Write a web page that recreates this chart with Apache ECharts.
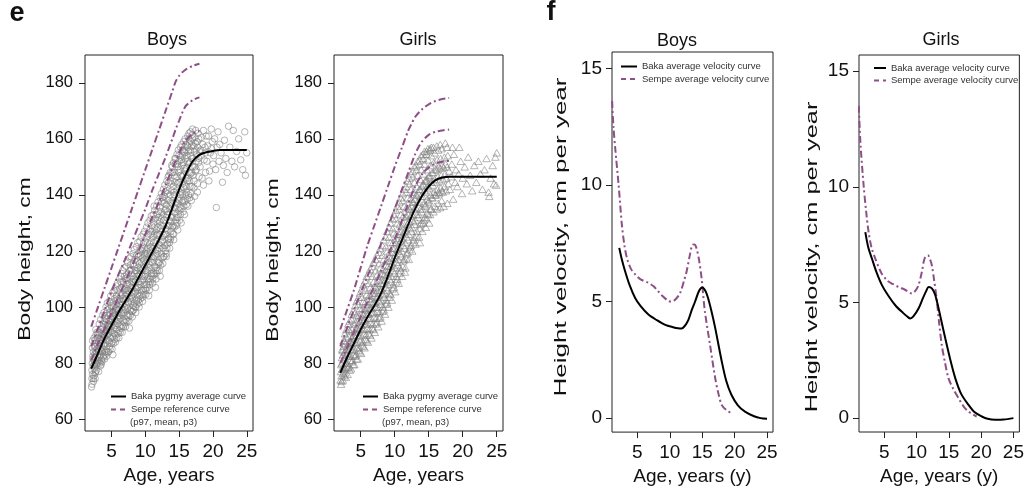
<!DOCTYPE html>
<html>
<head>
<meta charset="utf-8">
<title>Baka pygmy growth</title>
<script src="https://cdn.jsdelivr.net/npm/echarts@6/dist/echarts.min.js"></script>
<style>
  html, body { margin: 0; padding: 0; background: #fff; }
  #chart { width: 1027px; height: 491px; }
</style>
</head>
<body>
<div id="chart"></div>
<script>
// ---- tick values ----
const ageTicks = [5, 10, 15, 20, 25]
const heightTicks = [60, 80, 100, 120, 140, 160, 180]
const velocityTicks = [0, 5, 10, 15]

// ---- e: body height, Sempe reference curves (age, cm) ----
const sempeBoysP97 = [[2,93],[3,100],[4,107],[5,114],[6,121],[7,128],[8,135],[9,142],[10,149],[11,156],[12,163],[13,170],[14,177],[14.5,180.5],[15,182.5],[15.5,183.8],[16,184.8],[17,186],[18,186.8]]
const sempeBoysMean = [[2,86],[3,92.5],[4,99],[5,105.5],[6,111.5],[7,117],[8,123],[9,129],[10,135],[11,141.5],[12,147.5],[13,153.5],[14,160],[14.5,163.5],[15,166.5],[15.5,169.5],[16,171.8],[17,173.8],[18,174.8]]
const sempeBoysP3 = [[2,81],[3,87],[4,92.5],[5,98],[6,103.5],[7,109],[8,114.5],[9,120],[10,126],[11,132],[12,137.5],[13,143.5],[14,149.5],[15,155],[15.5,157.5],[16,159.5],[17,161.8],[18,162.8]]
const sempeGirlsP97 = [[2,92],[3,99],[4,106],[5,114],[6,122],[7,129],[8,136],[9,143],[10,150],[11,156.5],[12,163],[12.5,165.5],[13,167.8],[14,170.5],[15,172.3],[16,173.5],[17,174.2],[18,174.6]]
const sempeGirlsMean = [[2,86],[3,92.5],[4,99],[5,105],[6,111],[7,116.5],[8,122.5],[9,128.5],[10,135],[11,141.5],[12,148],[13,154.5],[13.5,157],[14,159],[15,161.4],[16,162.5],[17,163],[18,163.3]]
const sempeGirlsP3 = [[2,80],[3,85.5],[4,91],[5,96.5],[6,102],[7,107.5],[8,113],[9,118.5],[10,124],[11,130.5],[12,137],[13,143],[14,147.3],[15,149.8],[16,151.2],[17,151.8],[18,152.2]]

// ---- e: Baka pygmy average curves ----
const bakaBoysHeight = [[2,78],[3,83.5],[4,89],[5,93.5],[6,98],[7,102],[8,106],[9,110.5],[10,115],[11,119.5],[12,124],[13,129],[14,135.5],[15,142],[16,147.5],[17,152],[18,154.3],[19,155.2],[20,155.7],[21,156],[23,156],[25,156]]
const bakaGirlsHeight = [[2,76.5],[3,82],[4,87],[5,92],[6,96.5],[7,100.5],[8,105],[9,111],[10,117.5],[11,123.5],[12,129.5],[13,135],[14,139.5],[15,143],[16,145.3],[17,146.2],[18,146.5],[21,146.5],[25,146.5]]

// ---- e: individual measurements ----
const boysPoints = [
  [2.05,71.5],[2.1,74.5],[2.1,77.5],[2.15,80],[2.2,76],[2.25,82.5],[2.3,79],[2.3,84],[2.35,73.5],[2.4,81],[2.45,78],[2.45,86],[2.5,83],[2.2,88],[2.4,75.5],
  [2.55,80],[2.6,84.5],[2.65,77],[2.7,82],[2.75,87],[2.8,79.5],[2.85,85],[2.9,89],[2.95,83],[2.6,76.5],[2.7,90],[2.9,81],[3.0,86.5],[2.8,84],[2.55,88],
  [3.05,80.5],[3.1,84],[3.15,87.5],[3.2,82],[3.25,90],[3.3,85],[3.35,79],[3.4,88],[3.45,92],[3.5,84.5],[3.1,91],[3.2,86],[3.35,83],[3.45,89.5],[3.5,81],
  [3.55,87],[3.6,90.5],[3.65,84],[3.7,93],[3.75,88],[3.8,82.5],[3.85,91.5],[3.9,86.5],[3.95,95],[4.0,89.5],[3.6,85.5],[3.7,89],[3.8,94],[3.9,90],[4.0,84],
  [4.05,87],[4.1,91],[4.15,94.5],[4.2,88.5],[4.25,92.5],[4.3,85],[4.35,97],[4.4,90],[4.45,93.5],[4.5,88],[4.1,96],[4.2,84],[4.3,91.5],[4.4,99],[4.5,94],
  [4.55,90.5],[4.6,95],[4.65,87.5],[4.7,93],[4.75,98],[4.8,91.5],[4.85,96],[4.9,89],[4.95,100.5],[5.0,94.5],[4.6,92],[4.7,86],[4.8,97.5],[4.9,93],[5.2,83],
  [5.05,91],[5.1,95.5],[5.15,98.5],[5.2,89.5],[5.25,94],[5.3,100],[5.35,92.5],[5.4,97],[5.45,103],[5.5,95],[5.1,87.5],[5.2,101.5],[5.3,96.5],[5.4,90.5],[5.5,99],
  [5.55,93.5],[5.6,97.5],[5.65,101],[5.7,95],[5.75,104],[5.8,92],[5.85,99],[5.9,102.5],[5.95,96.5],[6.0,100],[5.6,90],[5.7,99.5],[5.8,106],[5.9,94],[6.0,97],
  [6.05,95.5],[6.1,99],[6.15,102.5],[6.2,97],[6.25,105],[6.3,93],[6.35,100.5],[6.4,104],[6.45,98],[6.5,107],[6.1,91.5],[6.2,101],[6.3,96],[6.4,109],[6.5,102],
  [6.55,97.5],[6.6,101],[6.65,104.5],[6.7,99],[6.75,107.5],[6.8,95],[6.85,102.5],[6.9,106],[6.95,100],[7.0,110],[6.6,93.5],[6.7,103],[6.8,98],[6.9,111],[7.0,104],
  [7.05,99],[7.1,103],[7.15,106.5],[7.2,100.5],[7.25,109.5],[7.3,97],[7.35,104.5],[7.4,108],[7.45,102],[7.5,112],[7.1,95.5],[7.2,105],[7.3,110.5],[7.4,99.5],[7.5,106],
  [7.55,101.5],[7.6,105.5],[7.65,92.5],[7.7,103],[7.75,110],[7.8,99],[7.85,107],[7.9,113.5],[7.95,104],[8.0,109],[7.6,97.5],[7.7,108.5],[7.8,115],[7.9,102],[8.0,105.5],
  [8.05,103],[8.1,107.5],[8.15,111],[8.2,100.5],[8.25,109],[8.3,114.5],[8.35,105],[8.4,112],[8.45,117],[8.5,107],[8.1,98.5],[8.2,104.5],[8.3,110],[8.4,101.5],[8.5,113],
  [8.55,105.5],[8.6,109.5],[8.65,113],[8.7,102.5],[8.75,111],[8.8,116.5],[8.85,107],[8.9,114],[8.95,119],[9.0,109],[8.6,100],[8.7,106.5],[8.8,112],[8.9,104],[9.0,118],
  [9.05,107],[9.1,111.5],[9.15,115.5],[9.2,104],[9.25,113],[9.3,118.5],[9.35,109],[9.4,116],[9.45,121],[9.5,111],[9.1,101.5],[9.2,108],[9.3,114],[9.4,106],[9.5,120],
  [9.55,109.5],[9.6,113.5],[9.65,117.5],[9.7,106],[9.75,115],[9.8,121],[9.85,111],[9.9,118.5],[9.95,123.5],[10.0,113],[9.6,103.5],[9.7,110],[9.8,116.5],[9.9,108],[10.0,119],
  [10.05,111.5],[10.1,116],[10.15,120],[10.2,108],[10.25,117.5],[10.3,123],[10.35,113],[10.4,121],[10.45,126],[10.5,104],[10.1,106],[10.2,112.5],[10.3,119],[10.4,110],[10.5,115.5],
  [10.55,114],[10.6,118.5],[10.65,122.5],[10.7,110],[10.75,120],[10.8,126],[10.85,116],[10.9,123.5],[10.95,129],[11.0,118],[10.6,108],[10.7,115],[10.8,121.5],[10.9,112],[11.0,127],
  [11.05,116],[11.1,121],[11.15,125],[11.2,112],[11.25,123],[11.3,128.5],[11.35,118],[11.4,126],[11.45,131.5],[11.5,107],[11.1,110],[11.2,117.5],[11.3,136],[11.4,114.5],[11.5,120.5],
  [11.55,118.5],[11.6,123.5],[11.65,127.5],[11.7,114],[11.75,125.5],[11.8,131],[11.85,120],[11.9,128.5],[11.95,134],[12.0,122.5],[11.6,112],[11.7,119],[11.8,126],[11.9,116],[12.0,132],
  [12.05,121],[12.1,126],[12.15,130.5],[12.2,111],[12.25,128],[12.3,134],[12.35,123],[12.4,131.5],[12.45,137.5],[12.5,125],[12.1,116],[12.2,122],[12.3,129],[12.4,119],[12.5,139],
  [12.55,123.5],[12.6,129],[12.65,133],[12.7,118],[12.75,131],[12.8,137],[12.85,126],[12.9,134.5],[12.95,141],[13.0,128],[12.6,121],[12.7,125.5],[12.8,139.5],[12.9,122],[13.0,135],
  [13.05,126],[13.1,132],[13.15,136.5],[13.2,121],[13.25,134],[13.3,140.5],[13.35,129],[13.4,138],[13.45,144.5],[13.5,131],[13.1,118],[13.2,127.5],[13.3,133],[13.4,124],[13.5,147],
  [13.55,129],[13.6,135],[13.65,140],[13.7,124],[13.75,137.5],[13.8,144],[13.85,132],[13.9,141.5],[13.95,148],[14.0,134.5],[13.6,121],[13.7,130.5],[13.8,127],[13.9,137],[14.0,150],
  [14.05,132],[14.1,138],[14.15,143],[14.2,126],[14.25,141],[14.3,147],[14.35,135.5],[14.4,144.5],[14.45,151],[14.5,137.5],[14.1,129],[14.2,124],[14.3,140],[14.4,133.5],[14.5,153],
  [14.55,135],[14.6,141.5],[14.65,146.5],[14.7,130],[14.75,144],[14.8,150],[14.85,138.5],[14.9,148],[14.95,154],[15.0,141],[14.6,132],[14.7,137],[14.8,127.5],[14.9,144.5],[15.0,152],
  [15.05,138],[15.1,144.5],[15.15,149],[15.2,133],[15.25,147],[15.3,152.5],[15.35,141],[15.4,150.5],[15.45,156],[15.5,144],[15.1,135.5],[15.2,140],[15.3,130],[15.4,146.5],[15.5,154],
  [15.55,140.5],[15.6,147],[15.65,151.5],[15.7,136],[15.75,149.5],[15.8,155],[15.85,143.5],[15.9,153],[15.95,158],[16.0,146],[15.6,138],[15.7,142.5],[15.8,133],[15.9,148.5],[16.0,156],
  [16.05,143],[16.1,149.5],[16.15,154],[16.2,138.5],[16.25,152],[16.3,157],[16.35,146],[16.4,155.5],[16.45,160],[16.5,148],[16.1,141],[16.2,145],[16.3,136],[16.4,151],[16.5,158.5],
  [16.55,145],[16.6,151.5],[16.65,156],[16.7,140.5],[16.75,154],[16.8,159],[16.85,148],[16.9,157.5],[16.95,161.5],[17.0,150],[16.6,143],[16.7,147.5],[16.8,138],[16.9,153],[17.0,160],
  [17.05,147],[17.1,153],[17.15,157.5],[17.2,142.5],[17.25,155.5],[17.3,160.5],[17.35,150],[17.4,158.5],[17.45,163],[17.5,152],[17.2,145],[17.3,139.5],[17.4,148.5],[17.5,156],
  [17.55,149],[17.6,154.5],[17.65,159],[17.7,144],[17.75,157],[17.8,162],[17.85,151.5],[17.9,160],[17.95,146.5],[18.0,155.5],[17.7,141],[17.9,153],
  [18.1,150],[18.2,156],[18.3,160.5],[18.4,146],[18.5,158],[18.6,163],[18.7,152.5],[18.8,157],[18.9,148],[19.0,161],[18.3,154],[18.6,143.5],[18.9,155],
  [19.1,152],[19.2,157.5],[19.35,161],[19.5,148.5],[19.6,155],[19.75,163.5],[19.9,159],[20.0,151],[19.4,145],[19.8,156.5],
  [20.1,154],[20.25,160],[20.4,149],[20.5,135.5],[20.6,157],[20.75,162.5],[20.9,152],[21.0,158],
  [21.2,155],[21.4,144.5],[21.55,150.5],[21.7,159.5],[21.9,153],[22.1,148],[22.3,164.5],[22.5,157],[22.8,152],[23.0,163],[23.2,150],[23.5,155.5],[23.8,160],[24.1,152.5],[24.4,149],[24.7,162.5],[24.8,147],[25.0,155],
  [2.12,72.5],[2.18,85.5],[2.32,74.5],[2.42,89],[2.48,79.5],[2.27,81.5],
  [2.58,74.5],[2.68,92],[2.78,77.5],[2.88,91],[2.98,80],[2.63,86],
  [3.08,77],[3.18,94],[3.28,80],[3.38,95.5],[3.48,79.5],[3.22,88.5],
  [3.58,80.5],[3.68,97],[3.78,82],[3.88,98],[3.98,81.5],[3.72,92.5],
  [4.08,83],[4.18,100],[4.28,82.5],[4.38,101.5],[4.48,84],[4.22,95.5],
  [4.58,84],[4.68,102],[4.78,85],[4.88,104],[4.98,87],[4.72,99.5],
  [5.08,85],[5.18,105],[5.28,87],[5.38,106],[5.48,88.5],[5.22,98],
  [5.58,87.5],[5.68,107.5],[5.78,89],[5.88,108.5],[5.98,90.5],[5.72,102.5],
  [6.08,89],[6.18,110],[6.28,91],[6.38,111],[6.48,92.5],[6.22,106.5],
  [6.58,91],[6.68,113],[6.78,93],[6.88,114],[6.98,94.5],[6.72,109],
  [7.08,93],[7.18,114.5],[7.28,95],[7.38,116],[7.48,96.5],[7.22,111.5],
  [7.58,95],[7.68,117.5],[7.78,97],[7.88,118],[7.98,98.5],[7.72,113],
  [8.08,96.5],[8.18,119],[8.28,99],[8.38,120.5],[8.48,100],[8.22,115.5],
  [8.58,98],[8.68,121.5],[8.78,101],[8.88,123],[8.98,102.5],[8.72,118.5],
  [9.08,100],[9.18,123.5],[9.28,103],[9.38,125],[9.48,104.5],[9.22,120.5],
  [9.58,102],[9.68,126],[9.78,104.5],[9.88,127],[9.98,106.5],[9.72,122.5],
  [10.08,104.5],[10.18,128.5],[10.28,107],[10.38,130],[10.48,109],[10.22,125],
  [10.58,106],[10.68,131],[10.78,109],[10.88,132.5],[10.98,111],[10.72,127.5],
  [11.08,108.5],[11.18,133],[11.28,111.5],[11.38,134.5],[11.48,113],[11.22,130],
  [11.58,110],[11.68,136],[11.78,113],[11.88,137.5],[11.98,115.5],[11.72,133],
  [12.08,113],[12.18,139],[12.28,115],[12.38,140.5],[12.48,117.5],[12.22,135.5],
  [12.58,115.5],[12.68,142],[12.78,118],[12.88,143.5],[12.98,120],[12.72,138],
  [13.08,119],[13.18,145],[13.28,122.5],[13.38,146.5],[13.48,124.5],[13.22,141.5],
  [13.58,123],[13.68,148],[13.78,125],[13.88,150.5],[13.98,128.5],[13.72,145],
  [14.08,126],[14.18,151.5],[14.28,128.5],[14.38,153],[14.48,131],[14.22,148],
  [14.58,129],[14.68,154.5],[14.78,132],[14.88,156],[14.98,134.5],[14.72,151],
  [15.08,131],[15.18,157],[15.28,135],[15.38,158],[15.48,137.5],[15.22,153.5],
  [15.58,134],[15.68,159],[15.78,137.5],[15.88,160],[15.98,140],[15.72,155.5],
  [16.08,136.5],[16.28,161],[16.38,140],[16.48,162],[16.22,157.5],
  [16.58,139],[16.68,162.5],[16.88,143],[16.98,163.5]
]
const girlsPoints = [
  [2.05,74],[2.1,77],[2.15,79.5],[2.2,75.5],[2.25,82],[2.3,78],[2.35,84.5],[2.4,80.5],[2.45,76.5],[2.5,86],[2.2,73.5],[2.4,83],
  [2.55,78],[2.6,81.5],[2.65,84],[2.7,76.5],[2.75,87],[2.8,80],[2.85,83],[2.9,89],[2.95,78.5],[3.0,85.5],[2.6,88],[2.8,75],
  [3.05,80],[3.1,83.5],[3.15,86.5],[3.2,78.5],[3.25,89.5],[3.3,82.5],[3.35,85],[3.4,91.5],[3.45,81],[3.5,87.5],[3.2,92],[3.4,77.5],
  [3.55,82.5],[3.6,86],[3.65,89],[3.7,80.5],[3.75,92],[3.8,84.5],[3.85,87.5],[3.9,94],[3.95,83],[4.0,90],[3.7,95.5],[3.9,79.5],
  [4.05,85],[4.1,88.5],[4.15,91.5],[4.2,82.5],[4.25,94.5],[4.3,87],[4.35,90],[4.4,97],[4.45,85.5],[4.5,92.5],[4.2,98],[4.4,81.5],
  [4.55,87.5],[4.6,91],[4.65,94],[4.7,84.5],[4.75,97],[4.8,89.5],[4.85,92.5],[4.9,99.5],[4.95,88],[5.0,95],[4.7,101],[4.9,84],
  [5.05,90],[5.1,93.5],[5.15,96.5],[5.2,86.5],[5.25,99.5],[5.3,92],[5.35,95],[5.4,102],[5.45,90.5],[5.5,97.5],[5.2,103.5],[5.4,86],
  [5.55,92],[5.6,95.5],[5.65,99],[5.7,88.5],[5.75,102],[5.8,94],[5.85,97.5],[5.9,104.5],[5.95,92.5],[6.0,100],[5.7,106],[5.9,88],
  [6.05,94],[6.1,97.5],[6.15,101],[6.2,90.5],[6.25,104],[6.3,96],[6.35,99.5],[6.4,107],[6.45,94.5],[6.5,102],[6.2,108.5],[6.4,90],
  [6.55,96],[6.6,99.5],[6.65,103],[6.7,92.5],[6.75,106.5],[6.8,98],[6.85,101.5],[6.9,109],[6.95,96.5],[7.0,104],[6.7,111],[6.9,92],
  [7.05,98],[7.1,101.5],[7.15,105],[7.2,94],[7.25,108.5],[7.3,100],[7.35,103.5],[7.4,111.5],[7.45,98.5],[7.5,106],[7.2,113],[7.4,94.5],
  [7.55,100],[7.6,104],[7.65,107.5],[7.7,96],[7.75,111],[7.8,102],[7.85,106],[7.9,114],[7.95,101],[8.0,108.5],[7.7,115.5],[7.9,96.5],
  [8.05,102.5],[8.1,106.5],[8.15,110],[8.2,98.5],[8.25,113.5],[8.3,104.5],[8.35,108.5],[8.4,117],[8.45,103.5],[8.5,111.5],[8.2,118.5],[8.4,99],
  [8.55,105],[8.6,109.5],[8.65,113],[8.7,101],[8.75,116.5],[8.8,107],[8.85,111.5],[8.9,120],[8.95,106],[9.0,114.5],[8.7,121.5],[8.9,101.5],
  [9.05,108],[9.1,112.5],[9.15,116.5],[9.2,103.5],[9.25,119.5],[9.3,110],[9.35,114.5],[9.4,123],[9.45,109],[9.5,117.5],[9.2,125],[9.4,104.5],
  [9.55,111],[9.6,115.5],[9.65,119.5],[9.7,106.5],[9.75,123],[9.8,113],[9.85,117.5],[9.9,126.5],[9.95,112],[10.0,121],[9.7,128],[9.9,107],
  [10.05,114],[10.1,118.5],[10.15,123],[10.2,109],[10.25,126],[10.3,116],[10.35,120.5],[10.4,130],[10.45,115],[10.5,124],[10.2,131.5],[10.4,110],
  [10.55,117],[10.6,121.5],[10.65,126],[10.7,112],[10.75,129.5],[10.8,119],[10.85,123.5],[10.9,133],[10.95,118],[11.0,127],[10.7,135],[10.9,113],
  [11.05,120],[11.1,124.5],[11.15,129],[11.2,114.5],[11.25,132.5],[11.3,122],[11.35,126.5],[11.4,136],[11.45,121],[11.5,112.5],[11.2,138],[11.4,117],
  [11.55,123],[11.6,127.5],[11.65,132],[11.7,117.5],[11.75,135.5],[11.8,125],[11.85,129.5],[11.9,139],[11.95,124],[12.0,133],[11.7,141],[11.9,119.5],
  [12.05,126],[12.1,130.5],[12.15,135],[12.2,120.5],[12.25,138.5],[12.3,128],[12.35,132.5],[12.4,142],[12.45,127],[12.5,136],[12.2,144],[12.4,122],
  [12.55,128.5],[12.6,133],[12.65,137.5],[12.7,123],[12.75,141],[12.8,130.5],[12.85,135],[12.9,144.5],[12.95,129.5],[13.0,138.5],[12.7,146.5],[12.9,125],
  [13.05,131],[13.1,135.5],[13.15,140],[13.2,125.5],[13.25,143],[13.3,133],[13.35,137.5],[13.4,147],[13.45,132],[13.5,140.5],[13.2,149],[13.7,123],
  [13.55,133],[13.6,137.5],[13.65,142],[13.7,128],[13.75,145.5],[13.8,135],[13.85,139.5],[13.9,149],[13.95,134],[14.0,143],[13.7,151],[13.9,130],
  [14.05,135],[14.1,139.5],[14.15,144],[14.2,130],[14.25,147.5],[14.3,137],[14.35,141.5],[14.4,151],[14.45,136],[14.5,145],[14.2,153],[14.4,132],
  [14.55,136.5],[14.6,141],[14.65,145.5],[14.7,131.5],[14.75,149],[14.8,138.5],[14.85,143],[14.9,152.5],[14.95,137.5],[15.0,146.5],[14.7,154.5],[14.9,133],
  [15.05,138],[15.1,142.5],[15.15,147],[15.2,133],[15.25,150.5],[15.3,140],[15.35,144.5],[15.4,154],[15.45,139],[15.5,148],[15.2,156],[15.4,135],
  [15.55,139],[15.6,143.5],[15.65,148],[15.7,134],[15.75,151.5],[15.8,141],[15.85,145.5],[15.9,155],[15.95,140],[16.0,149],[15.7,157],[15.9,136],
  [16.05,140],[16.1,144.5],[16.15,149],[16.2,135],[16.25,152.5],[16.3,142],[16.35,146.5],[16.4,156],[16.45,141],[16.5,150],[16.2,157.5],[16.4,137],
  [16.55,140.5],[16.6,145],[16.65,149.5],[16.7,135.5],[16.75,153],[16.8,142.5],[16.85,147],[16.9,156.5],[16.95,141.5],[17.0,150.5],[16.7,158],[16.9,138],
  [17.05,141],[17.1,145.5],[17.15,150],[17.2,136],[17.3,153.5],[17.35,143],[17.4,147.5],[17.45,158.5],[17.5,151],
  [17.55,141.5],[17.6,146],[17.7,150],[17.75,137],[17.8,154],[17.9,144],[18.0,148.5],[17.7,157],
  [18.1,142],[18.3,146.5],[18.4,151],[18.6,138.5],[18.7,154.5],[18.9,144.5],[19.0,149],[18.5,157],
  [19.2,143],[19.4,147.5],[19.5,157],[19.7,152],[19.9,140.5],[20.0,146],
  [20.3,150],[20.6,144],[20.8,153.5],[21.1,147],[21.4,141.5],[21.7,150.5],[22.0,144.5],[22.3,152],[22.6,147.5],[22.9,142],[23.2,149],[23.5,153],[23.8,141],[24.1,146],[24.4,150.5],[24.6,144],[24.8,153.5],[25.0,155],[24.9,143.5],[23.9,139.5],
  [2.12,72.5],[2.28,85],[2.38,74],[2.48,88],[2.22,80],
  [2.58,75.5],[2.68,90.5],[2.78,78],[2.88,92],[2.72,84],
  [3.08,76],[3.18,94],[3.28,79],[3.38,95],[3.22,87],
  [3.58,78],[3.68,97.5],[3.78,81],[3.88,98.5],[3.72,89],
  [4.08,79.5],[4.18,100.5],[4.28,83],[4.38,102],[4.22,92],
  [4.58,81.5],[4.68,103.5],[4.78,85.5],[4.88,105],[4.72,95.5],
  [5.08,83.5],[5.18,106.5],[5.28,87.5],[5.38,108],[5.22,98],
  [5.58,85.5],[5.68,109.5],[5.78,90],[5.88,111],[5.72,100.5],
  [6.08,87.5],[6.18,112],[6.28,92],[6.38,113.5],[6.22,103],
  [6.58,89],[6.68,114.5],[6.78,94],[6.88,116],[6.72,105],
  [7.08,91],[7.18,117],[7.28,96],[7.38,118.5],[7.22,107],
  [7.58,93],[7.68,119.5],[7.78,98],[7.88,121],[7.72,109.5],
  [8.08,95],[8.18,122],[8.28,100],[8.38,124],[8.22,112],
  [8.58,97.5],[8.68,125],[8.78,102.5],[8.88,127],[8.72,115],
  [9.08,100],[9.18,128.5],[9.28,105],[9.38,130],[9.22,118],
  [9.58,102.5],[9.68,131.5],[9.78,108],[9.88,133],[9.72,121],
  [10.08,105.5],[10.18,134.5],[10.28,111],[10.38,136],[10.22,124.5],
  [10.58,108.5],[10.68,137.5],[10.78,114],[10.88,139],[10.72,127],
  [11.08,111],[11.18,140.5],[11.28,116.5],[11.38,142],[11.22,130],
  [11.58,114],[11.68,143],[11.78,119],[11.88,145],[11.72,132.5],
  [12.08,117],[12.18,146],[12.28,121.5],[12.38,147.5],[12.22,135],
  [12.58,120],[12.68,148.5],[12.78,124],[12.88,150],[12.72,137.5],
  [13.08,122.5],[13.18,150.5],[13.28,127],[13.38,152],[13.22,140],
  [13.58,125],[13.68,152.5],[13.78,129.5],[13.88,154],[13.72,142],
  [14.08,127],[14.18,154.5],[14.28,131],[14.38,155.5],[14.22,143.5],
  [14.58,128.5],[14.68,155.5],[14.78,133.5],[14.88,156.5],[14.72,145],
  [15.08,130],[15.18,156.5],[15.28,135],[15.38,157],[15.22,146]
]

// ---- f: height velocity (age, cm per year) ----
const sempeBoysVelocity = [[1.1,13.6],[1.3,12.5],[1.6,11.5],[2.1,10],[2.6,8.3],[3,7.4],[3.4,6.85],[4,6.4],[4.7,6.15],[5.5,5.95],[6.7,5.8],[7.5,5.65],[8.2,5.44],[9,5.2],[9.8,5.02],[10.3,5],[10.9,5.1],[11.6,5.37],[12.2,5.9],[12.6,6.3],[13.1,7],[13.5,7.44],[13.8,7.45],[14.1,7.3],[14.5,6.8],[14.9,6],[15.4,4.6],[16.2,3.15],[17,1.72],[17.5,1.05],[18,0.57],[18.7,0.35],[19.5,0.21]]
const bakaBoysVelocity = [[2.2,7.3],[2.6,6.8],[3.1,6.3],[3.8,5.7],[4.65,5.15],[5.5,4.8],[6.7,4.44],[8,4.2],[9.3,4],[10.5,3.9],[11.3,3.85],[11.8,3.84],[12.3,3.95],[12.85,4.2],[13.4,4.65],[13.9,5],[14.5,5.45],[15,5.6],[15.5,5.45],[15.9,5.15],[16.5,4.5],[17,3.87],[18,2.45],[18.7,1.6],[19.5,1],[20.5,0.55],[21.6,0.28],[23,0.08],[24,0],[25,-0.03]]
const sempeGirlsVelocity = [[1.05,13.5],[1.3,11.9],[1.8,10.05],[2.2,8.9],[2.57,8.04],[3,7.4],[3.6,6.9],[4.5,6.3],[5.4,5.96],[6.3,5.8],[7.2,5.67],[8.2,5.55],[9.27,5.39],[9.8,5.5],[10.3,5.75],[10.8,6.3],[11.24,6.9],[11.75,7.04],[12.1,6.85],[12.37,6.6],[12.7,6],[13.1,5.17],[13.5,4.1],[13.9,3.16],[14.4,2.4],[14.95,1.72],[15.7,1.25],[16.5,0.86],[17.3,0.5],[18.05,0.28],[19.3,0.07]]
const bakaGirlsVelocity = [[2.06,8.04],[2.5,7.4],[3.08,6.9],[3.8,6.3],[4.63,5.75],[5.6,5.3],[6.7,4.88],[7.9,4.55],[8.6,4.38],[9.02,4.31],[9.5,4.4],[10.3,4.74],[11,5.2],[11.5,5.5],[11.86,5.67],[12.4,5.6],[12.9,5.31],[13.6,4.5],[14.44,3.45],[15.2,2.55],[16,1.72],[16.9,1.05],[18.05,0.57],[19,0.25],[20.1,0.07],[21,-0.03],[22.2,-0.07],[23.5,-0.06],[25,0]]

// ---- styling ----
const FONT = '"Liberation Sans", Arial, Helvetica, sans-serif'
const PURPLE = '#8e4f86'
const INK = '#111'
const DASHDOT = [7, 3, 2, 3]
const BAKA_H = 'Baka pygmy average curve'
const SEMPE_H = 'Sempe reference curve'
const BAKA_V = 'Baka average velocity curve'
const SEMPE_V = 'Sempe average velocity curve'

const grids = [
    { left: 85, top: 55, width: 168, height: 376 },
    { left: 334, top: 55, width: 169, height: 376 },
    { left: 612, top: 52, width: 161, height: 381 },
    { left: 859, top: 55, width: 163, height: 377 },
]

function makeXAxis(idx, name) {
    return {
        type: 'value', gridIndex: idx, min: 1.08, max: 25.92,
        axisLine: { show: false, onZero: false },
        axisTick: { show: true, length: 6, customValues: ageTicks, lineStyle: { color: '#222' } },
        axisLabel: { customValues: ageTicks, fontSize: 19, margin: 11, color: INK, fontFamily: FONT },
        splitLine: { show: false },
        name: name, nameLocation: 'middle', nameGap: 34,
        nameTextStyle: { fontSize: 19, color: INK, fontFamily: FONT },
    }
}

function makeYAxis(idx, min, max, ticks, fontSize, margin) {
    return {
        type: 'value', gridIndex: idx, min: min, max: max,
        axisLine: { show: false, onZero: false },
        axisTick: { show: true, length: 6, customValues: ticks, lineStyle: { color: '#222' } },
        axisLabel: { customValues: ticks, fontSize: fontSize, margin: margin, color: INK, fontFamily: FONT },
        splitLine: { show: false },
    }
}

function curve(name, data, idx, color, dash) {
    return {
        type: 'line', name: name, data: data,
        xAxisIndex: idx, yAxisIndex: idx,
        symbol: 'none', smooth: 0.3, silent: true, z: 3,
        itemStyle: { color: color },
        lineStyle: { color: color, width: 2, type: dash || 'solid' },
    }
}

function cloud(data, idx, symbol, size) {
    return {
        type: 'scatter', data: data, xAxisIndex: idx, yAxisIndex: idx,
        symbol: symbol, symbolSize: size, silent: true, z: 2,
        itemStyle: { color: 'rgba(0,0,0,0)', borderColor: 'rgba(125,125,125,0.8)', borderWidth: 0.9 },
    }
}

// legend icons: only the line part, the symbol is hidden
function makeLegend(left, top, width, gap, names) {
    return {
        orient: 'vertical', left: left, top: top, padding: 0,
        itemWidth: width, itemHeight: 8, itemGap: gap, selectedMode: false,
        itemStyle: { opacity: 0 },
        textStyle: { fontSize: 9.5, color: '#333', fontFamily: FONT },
        data: [names[0], { name: names[1], lineStyle: { type: [5, 4] } }],
    }
}

function text(str, x, y, size, opts) {
    opts = opts || {}
    return {
        type: 'text', x: x, y: y,
        rotation: opts.rotation || 0,
        scaleX: opts.scaleX || 1,
        silent: true,
        style: {
            text: str,
            font: (opts.weight || 'normal') + ' ' + size + 'px ' + FONT,
            fill: opts.fill || INK,
            textAlign: opts.align || 'center', align: opts.align || 'center',
            textVerticalAlign: 'middle', verticalAlign: 'middle',
        }
    }
}

const chart = echarts.init(document.getElementById('chart'), null, { renderer: 'canvas' })

const options = {
    animation: false,
    backgroundColor: '#fff',
    grid: grids.map(g => Object.assign({ show: true, borderColor: '#222', borderWidth: 1, backgroundColor: 'transparent' }, g)),
    xAxis: [
        makeXAxis(0, 'Age, years'),
        makeXAxis(1, 'Age, years'),
        makeXAxis(2, 'Age, years (y)'),
        makeXAxis(3, 'Age, years (y)'),
    ],
    yAxis: [
        makeYAxis(0, 55.8, 189.9, heightTicks, 16.5, 12),
        makeYAxis(1, 55.8, 189.9, heightTicks, 16.5, 12),
        makeYAxis(2, -0.6, 15.7, velocityTicks, 19, 10),
        makeYAxis(3, -0.6, 15.7, velocityTicks, 19, 10),
    ],
    legend: [
        makeLegend(110, 391.5, 15, 3, [BAKA_H, SEMPE_H]),
        makeLegend(362, 391.5, 15, 3, [BAKA_H, SEMPE_H]),
        makeLegend(620, 61.5, 16, 2.5, [BAKA_V, SEMPE_V]),
        makeLegend(873, 63, 12, 2.5, [BAKA_V, SEMPE_V]),
    ],
    series: [
        cloud(boysPoints, 0, 'circle', 6.5),
        curve(SEMPE_H, sempeBoysP97, 0, PURPLE, DASHDOT),
        curve(SEMPE_H, sempeBoysMean, 0, PURPLE, DASHDOT),
        curve(SEMPE_H, sempeBoysP3, 0, PURPLE, DASHDOT),
        curve(BAKA_H, bakaBoysHeight, 0, '#000'),

        cloud(girlsPoints, 1, 'triangle', [7.5, 6.5]),
        curve(SEMPE_H, sempeGirlsP97, 1, PURPLE, DASHDOT),
        curve(SEMPE_H, sempeGirlsMean, 1, PURPLE, DASHDOT),
        curve(SEMPE_H, sempeGirlsP3, 1, PURPLE, DASHDOT),
        curve(BAKA_H, bakaGirlsHeight, 1, '#000'),

        curve(SEMPE_V, sempeBoysVelocity, 2, PURPLE, DASHDOT),
        curve(BAKA_V, bakaBoysVelocity, 2, '#000'),
        curve(SEMPE_V, sempeGirlsVelocity, 3, PURPLE, DASHDOT),
        curve(BAKA_V, bakaGirlsVelocity, 3, '#000'),
    ],
    graphic: [
        text('e', 17, 14, 27, { weight: 'bold' }),
        text('f', 551, 13, 27, { weight: 'bold' }),
        text('Boys', 167, 40, 18),
        text('Girls', 418, 40, 18),
        text('Boys', 677, 41, 18),
        text('Girls', 941, 40, 18),
        text('Body height, cm', 25, 259, 17, { rotation: Math.PI / 2, scaleX: 1.34 }),
        text('Body height, cm', 273, 260, 17, { rotation: Math.PI / 2, scaleX: 1.34 }),
        text('Height velocity, cm per year', 561, 237, 17, { rotation: Math.PI / 2, scaleX: 1.53 }),
        text('Height velocity, cm per year', 812, 257, 17, { rotation: Math.PI / 2, scaleX: 1.49 }),
        text('(p97, mean, p3)', 130, 422, 9.5, { align: 'left', fill: '#333' }),
        text('(p97, mean, p3)', 382, 422, 9.5, { align: 'left', fill: '#333' }),
    ],
}

chart.setOption(options)
</script>
</body>
</html>
